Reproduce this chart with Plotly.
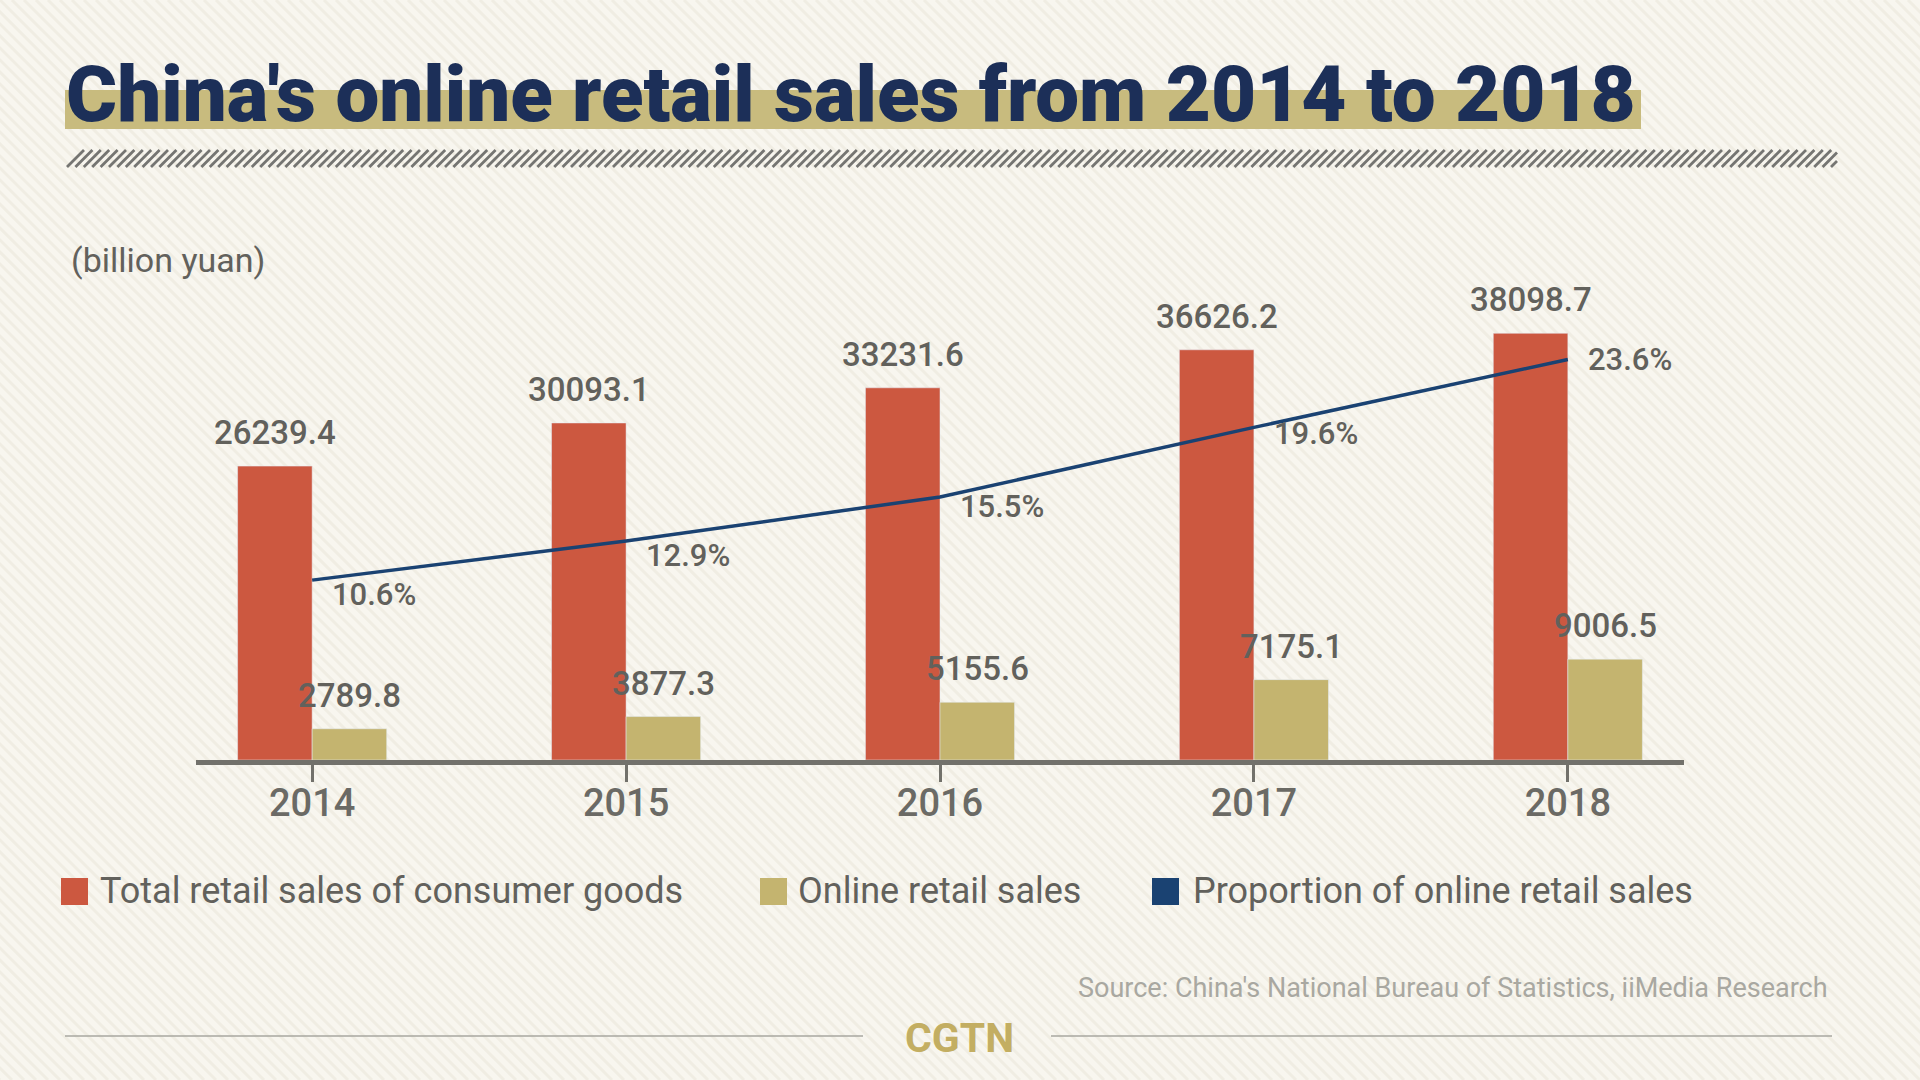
import plotly.graph_objects as go

# ---------------- data ----------------
years = ["2014", "2015", "2016", "2017", "2018"]
total_sales = [26239.4, 30093.1, 33231.6, 36626.2, 38098.7]
online_sales = [2789.8, 3877.3, 5155.6, 7175.1, 9006.5]
online_share = [10.6, 12.9, 15.5, 19.6, 23.6]
share_labels = ["10.6%", "12.9%", "15.5%", "19.6%", "23.6%"]

series_names = ["Total retail sales of consumer goods", "Online retail sales",
                "Proportion of online retail sales"]

# ---------------- styles ----------------
W, H = 1920, 1080
ML, MR, MT, MB = 196, 236, 200, 320
PW, PH = W - ML - MR, H - MT - MB

BG = "#f8f6ef"
RED = "#cc5840"
GOLD = "#c4b46f"
NAVY = "#1a4272"
TITLE = "#1c2f58"
GREY = "#62615c"
AXIS = "#72716b"

LABEL_FONT = "Roboto, Inter, Noto Sans, sans-serif"
TITLE_FONT = "Roboto, Inter, sans-serif"

def X(px):
    return (px - ML) / PW

def Y(py):
    return (H - MB - py) / PH

xs = list(range(len(years)))
BW = 0.2375

fig = go.Figure()
fig.add_trace(go.Bar(x=xs, y=total_sales, name=series_names[0], marker_color=RED,
                     width=BW, offset=-BW, showlegend=False))
fig.add_trace(go.Bar(x=xs, y=online_sales, name=series_names[1], marker_color=GOLD,
                     width=BW, offset=0, showlegend=False))
fig.add_trace(go.Scatter(x=xs, y=online_share, name=series_names[2], mode="lines",
                         line=dict(color=NAVY, width=3.5), yaxis="y2", showlegend=False))

annotations = []
# bar value labels
for i, (t, o) in enumerate(zip(total_sales, online_sales)):
    annotations.append(dict(x=i - BW / 2, y=t, xref="x", yref="y", text=f"{t:.1f}",
                            showarrow=False, yanchor="bottom", yshift=12,
                            font=dict(family=LABEL_FONT, size=33, color=GREY, weight=500)))
    annotations.append(dict(x=i + BW / 2, y=o, xref="x", yref="y", text=f"{o:.1f}",
                            showarrow=False, yanchor="bottom", yshift=12,
                            font=dict(family=LABEL_FONT, size=33, color=GREY, weight=500)))
# share labels
share_dy = [-14, -14, -10, -6, 0]
for i, (v, lab) in enumerate(zip(online_share, share_labels)):
    annotations.append(dict(x=i, y=v, xref="x", yref="y2", text=lab, showarrow=False,
                            xanchor="left", yanchor="middle", xshift=18, yshift=share_dy[i],
                            font=dict(family=LABEL_FONT, size=31, color=GREY, weight=500)))

# title
annotations.append(dict(x=X(64), y=Y(94), xref="paper", yref="paper",
                        text="China's online retail sales from 2014 to 2018",
                        showarrow=False, xanchor="left", yanchor="middle",
                        font=dict(family=TITLE_FONT, size=78, color=TITLE, weight=900)))
# unit
annotations.append(dict(x=X(69), y=Y(260), xref="paper", yref="paper", text="(billion yuan)",
                        showarrow=False, xanchor="left", yanchor="middle",
                        font=dict(family=LABEL_FONT, size=34, color=GREY)))
# legend
legend_items = [(RED, 61, 98), (GOLD, 760, 796), (NAVY, 1152, 1191)]
shapes = []
for (col, sx, tx), name in zip(legend_items, series_names):
    shapes.append(dict(type="rect", xref="paper", yref="paper", x0=X(sx), x1=X(sx + 27),
                       y0=Y(878), y1=Y(905), fillcolor=col, line=dict(width=0)))
    annotations.append(dict(x=X(tx), y=Y(891), xref="paper", yref="paper", text=name,
                            showarrow=False, xanchor="left", yanchor="middle",
                            font=dict(family=LABEL_FONT, size=36, color=GREY)))
# source
annotations.append(dict(x=X(1830), y=Y(988), xref="paper", yref="paper",
                        text="Source: China's National Bureau of Statistics, iiMedia Research",
                        showarrow=False, xanchor="right", yanchor="middle",
                        font=dict(family=LABEL_FONT, size=27, color="#a9a8a1")))
# CGTN
annotations.append(dict(x=X(959), y=Y(1038), xref="paper", yref="paper", text="<b>CGTN</b>",
                        showarrow=False, xanchor="center", yanchor="middle",
                        font=dict(family=LABEL_FONT, size=41, color="#c3ae62")))

# background stripes
parts = []
step = 12
for k in range(-H, W, step):
    parts.append(f"M{X(k):.5f},{Y(0):.5f}L{X(k + H):.5f},{Y(H):.5f}")
shapes.insert(0, dict(type="path", xref="paper", yref="paper", path="".join(parts),
                      line=dict(color="#f0ede3", width=3), layer="below"))
# title highlight
shapes.append(dict(type="rect", xref="paper", yref="paper", x0=X(65), x1=X(1641),
                   y0=Y(90), y1=Y(129), fillcolor="#c8bb7e", line=dict(width=0), layer="below"))
# hatched rule
hp = []
x = 67
while x < 1837:
    x1 = min(x + 17, 1837)
    hp.append(f"M{X(x):.5f},{Y(167):.5f}L{X(x1):.5f},{Y(167 - (x1 - x)):.5f}")
    x += 8.4
shapes.append(dict(type="path", xref="paper", yref="paper", path="".join(hp),
                   line=dict(color="#757572", width=2.8)))
# footer rules
shapes.append(dict(type="line", xref="paper", yref="paper", x0=X(65), x1=X(863),
                   y0=Y(1036), y1=Y(1036), line=dict(color="#a8a7a0", width=1.5)))
shapes.append(dict(type="line", xref="paper", yref="paper", x0=X(1051), x1=X(1832),
                   y0=Y(1036), y1=Y(1036), line=dict(color="#a8a7a0", width=1.5)))

fig.update_layout(
    width=W, height=H,
    margin=dict(l=ML, r=MR, t=MT, b=MB),
    paper_bgcolor=BG, plot_bgcolor="rgba(0,0,0,0)",
    barmode="overlay",
    showlegend=False,
    xaxis=dict(range=[-0.37, 4.37], tickvals=xs, ticktext=years, showgrid=False,
               zeroline=False, showline=True, linecolor=AXIS, linewidth=5,
               ticks="outside", ticklen=17, tickwidth=2.5, tickcolor=AXIS,
               ticklabelstandoff=-12,
               tickfont=dict(family=LABEL_FONT, size=38, color="#6b6a65", weight=500)),
    yaxis=dict(range=[0, 50000], visible=False, fixedrange=True),
    yaxis2=dict(range=[0, 33], overlaying="y", visible=False),
    annotations=annotations,
    shapes=shapes,
)

fig.write_html("out.html", config={"displayModeBar": False},
               post_script="document.body.style.margin='0';document.body.style.overflow='hidden';")
